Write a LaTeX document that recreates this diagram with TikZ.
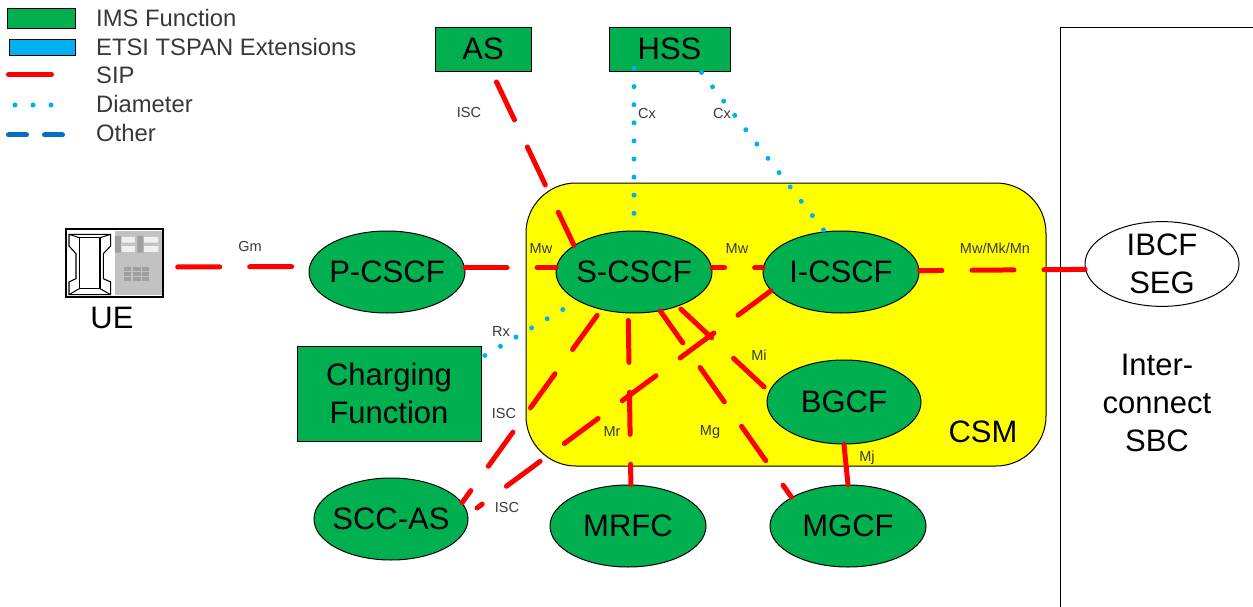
\documentclass[tikz,border=0pt]{standalone}
\usepackage{fontspec}
\setmainfont{Liberation Sans}
\usetikzlibrary{shapes.geometric}
\definecolor{imsgreen}{RGB}{0,176,80}
\definecolor{etsiblue}{RGB}{0,176,240}
\definecolor{otherblue}{RGB}{0,112,192}
\definecolor{sipred}{RGB}{255,0,0}
\definecolor{csmyellow}{RGB}{255,255,0}
\definecolor{labelgray}{gray}{0.22}
\newcommand{\bigtxt}{\fontsize{31}{38}\selectfont}
\newcommand{\legtxt}{\fontsize{23.8}{28}\selectfont}
\newcommand{\smtxt}{\fontsize{14.5}{17}\selectfont}
\newcommand{\nw}[1]{\makebox[0pt]{#1}}
\tikzset{
  fn/.style={ellipse,draw=black,line width=1pt,fill=imsgreen,inner sep=0pt,minimum width=156pt,minimum height=82pt,font=\bigtxt,align=center},
  fnbox/.style={rectangle,draw=black,line width=1pt,fill=imsgreen,inner sep=0pt,font=\bigtxt,align=center},
  sip/.style={draw=sipred,line width=5pt,line cap=round},
  sipdash/.style={sip,dash pattern=on 42pt off 30pt,dash phase=#1},
  dia/.style={draw=etsiblue,line width=5pt,line cap=round,dash pattern=on 0pt off 18.1pt,dash phase=#1},
  lbl/.style={font=\smtxt,text=labelgray,inner sep=0pt},
  leg/.style={font=\legtxt,text=labelgray,inner sep=0pt,anchor=west},
  big/.style={font=\bigtxt,inner sep=0pt,align=center},
}
\begin{document}
\begin{tikzpicture}[x=1pt,y=-1pt]
\useasboundingbox (0,0) rectangle (1253,607);
% legend
\node[draw=black,line width=1pt,fill=imsgreen,minimum width=68pt,minimum height=20pt,inner sep=0pt] (kIMS) at (41,19) {};
\node[draw=black,line width=1pt,fill=etsiblue,minimum width=66pt,minimum height=16pt,inner sep=0pt] (kETSI) at (42,48) {};
\draw[sip] (8.5,74.5) -- (51.5,74.5);
\draw[draw=etsiblue,line width=5pt,line cap=round,dash pattern=on 0pt off 18pt] (15,105) -- (52,105);
\draw[draw=otherblue,line width=5pt,line cap=round,dash pattern=on 18pt off 18pt] (8.5,135) -- (64,135);
\node[leg] (t1) at (96,18) {IMS Function};
\node[leg] (t2) at (96,47) {ETSI TSPAN Extensions};
\node[leg] (t3) at (96,75) {SIP};
\node[leg] (t4) at (96,104) {Diameter};
\node[leg] (t5) at (96,133) {Other};
% regions
\draw[draw=black,line width=1pt,fill=csmyellow,rounded corners=50pt] (526,183) rectangle (1046,466);
\node[draw=black,line width=1pt,fill=white,minimum width=194pt,minimum height=582pt,inner sep=0pt,anchor=north west] (SBC) at (1060,27) {};
\node[big] (SBCt) at (1157,403) {Inter-\\connect\\SBC};
\node[big] (CSM) at (983,432) {CSM};
% nodes
\node[fnbox,minimum width=96pt,minimum height=44pt] (AS) at (483,50) {\raisebox{2pt}{AS}};
\node[fnbox,minimum width=121pt,minimum height=44pt] (HSS) at (669.5,50) {\raisebox{2pt}{HSS}};
\node[fnbox,minimum width=184pt,minimum height=95pt] (CF) at (389,393.5) {Charging\\Function};
\node[fn] (P) at (387,272) {\nw{P-CSCF}};
\node[fn] (S) at (634,272) {\nw{S-CSCF}};
\node[fn] (I) at (841,272) {\nw{I-CSCF}};
\node[fn,minimum width=154pt,minimum height=84pt] (B) at (844,402) {\nw{BGCF}};
\node[fn] (MG) at (848,526) {\nw{MGCF}};
\node[fn] (MR) at (628,526) {\nw{MRFC}};
\node[fn,minimum width=154pt] (SCC) at (391,519) {\nw{SCC-AS}};
\node[fn,fill=white,minimum width=154pt] (IB) at (1162,264) {\nw{IBCF}\\\nw{SEG}};
% UE icon
\node[draw=black,line width=1.4pt,fill=white,minimum width=97pt,minimum height=68pt,inner sep=0pt] (UE) at (114.5,263) {};
\node[big] (UEt) at (112,318) {UE};
\begin{scope}[shift={(60,222)},x=0.3333pt,y=-0.3333pt]
  \fill[gray!48] (165,28) rectangle (305,220);
  \fill[gray!12] (185,45) rectangle (225,90) (252,45) rectangle (295,90);
  \fill[gray!48] (185,62) rectangle (225,72) (252,62) rectangle (295,72);
  \fill[gray!75] (165,42) rectangle (183,92) (232,42) rectangle (250,92);
  \foreach \xx in {192,220,246}\foreach \yy in {135,150,165}
    \fill[gray!75] (\xx,\yy) rectangle +(22,13);
  \draw[black,line width=1.1pt] (27,37)--(152,37)--(152,72)--(130,95)--(130,170)--(152,180)--(152,218)--(27,218)--(27,180)--(48,170)--(48,95)--(27,72)--cycle;
  \draw[black,line width=1.3pt] (58,47) rectangle (120,200);
  \draw[black,line width=1pt] (27,37)--(58,47) (152,37)--(120,47) (58,200)--(27,218) (120,200)--(152,218);
\end{scope}
% connectors
\coordinate (iscEnd) at (477,508);
\draw[sipdash=58] ([yshift=-4pt]UE.east) -- (P.176);
\draw[sipdash=0] (P.3) -- (S.177);
\draw[sipdash=29.5] (S.3) -- (I.177);
\draw[sipdash=19.5] (I.1.5) -- (IB.184.5);
\draw[sipdash=61.5] ([xshift=9pt]AS.south) -- (S.156);
\draw[sipdash=65] (S.229) -- (SCC.13);
\draw[sipdash=1] (I.195) -- (iscEnd);
\draw[sipdash=65] (S.262) -- (MR.86);
\draw[sipdash=3] (S.304) -- (MG.153);
\draw[sipdash=68] (S.322) -- (B.172);
\draw[sip] (B.south) -- (MG.north);
\draw[dia=0] ([xshift=-35.5pt,yshift=4pt]HSS.south) -- (S.north);
\draw[dia=0] ([xshift=32pt]HSS.south) -- (I.112);
\draw[dia=1] (S.207) -- ([yshift=-12pt]CF.north east);
% labels
\node[lbl] (lGm) at (250,247) {Gm};
\node[lbl] (lISC1) at (469,113) {ISC};
\node[lbl] (lCx1) at (647,114) {Cx};
\node[lbl] (lCx2) at (722,114) {Cx};
\node[lbl] (lMw1) at (541,249) {Mw};
\node[lbl] (lMw2) at (737,249) {Mw};
\node[lbl] (lMw3) at (995,248) {Mw/Mk/Mn};
\node[lbl] (lRx) at (501,332) {Rx};
\node[lbl] (lISC2) at (504,414) {ISC};
\node[lbl] (lMi) at (759,355) {Mi};
\node[lbl] (lMr) at (612,432) {Mr};
\node[lbl] (lMg) at (710,432) {Mg};
\node[lbl] (lMj) at (867,458) {Mj};
\node[lbl] (lISC3) at (507,508) {ISC};
\end{tikzpicture}
\end{document}
